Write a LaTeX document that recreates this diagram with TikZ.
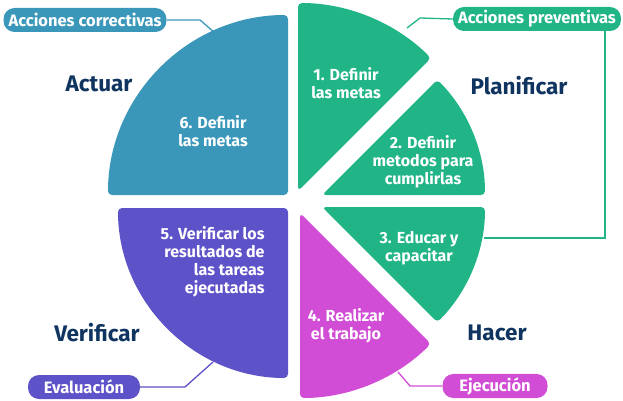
\documentclass[tikz,border=0pt]{standalone}
\usepackage{fontspec}
\setmainfont{Fira Sans}
\definecolor{cteal}{HTML}{3A97BA}
\definecolor{cgreen}{HTML}{20B487}
\definecolor{cpurp}{HTML}{5E52C8}
\definecolor{cmag}{HTML}{D24DD6}
\definecolor{cdark}{HTML}{0F3460}
\begin{document}
\begin{tikzpicture}[x=1pt,y=-1pt,
 sect/.style={rounded corners=4pt},
 inner/.style={text=white,font=\fontsize{16}{18}\selectfont\bfseries,align=center},
 phase/.style={text=cdark,font=\fontsize{22.5}{24}\selectfont\bfseries},
 pill/.style={rounded corners=11pt,minimum height=24pt,text=white,font=\fontsize{16.5}{17}\selectfont\bfseries,inner xsep=5pt},
 conn/.style={line width=1.3pt}]
\useasboundingbox (0,0) rectangle (623,401);
% sectors
\fill[cteal,sect] (288,195) -- (108,195) arc[start angle=-180,end angle=-90,radius=180] -- cycle;
\fill[cpurp,sect] (288,208) -- (288,378) arc[start angle=90,end angle=180,radius=170] -- cycle;
\fill[cgreen,sect] (298,191) -- (298,3) arc[start angle=-90,end angle=-45,radius=188] -- cycle;
\fill[cgreen,sect] (322,195) -- ++(-45:163) arc[start angle=-45,end angle=0,radius=163] -- cycle;
\fill[cgreen,sect] (322,207) -- (485,207) arc[start angle=0,end angle=45,radius=163] -- cycle;
\fill[cmag,sect] (300,213) -- ++(45:185) arc[start angle=45,end angle=90,radius=185] -- cycle;
% connector anchors
\coordinate (g1) at (407,28);
\coordinate (g3) at (484,238);
\coordinate (t6) at (215,33);
\coordinate (p5) at (213,362);
\coordinate (m4) at (398,372);
% pills
\node[pill,fill=cgreen] (ap) at (537,19) {Acciones preventivas};
\node[pill,fill=cteal] (ac) at (85,20) {Acciones correctivas};
\node[pill,fill=cpurp,minimum width=112pt] (ev) at (84,387) {Evaluación};
\node[pill,fill=cmag,minimum width=105pt] (ej) at (495,386) {Ejecución};
\draw[conn,cgreen] (g1) -- (420,18) -- (ap.west);
\coordinate (apc) at (605,30);
\draw[conn,cgreen] (apc) -- (apc|-g3) -- (g3);
\draw[conn,cteal] (ac.east) -- (200,20) -- (t6);
\draw[conn,cpurp] (ev.east) -- (185,387) -- (p5);
\draw[conn,cmag] (ej.west) -- (410,386) -- (m4);
% phase labels
\node[phase] (la) at (99,84) {Actuar};
\node[phase] (lp) at (519,86) {Planificar};
\node[phase] (lv) at (97,333) {Verificar};
\node[phase] (lh) at (497,333) {Hacer};
% texts
\node[inner] (s6) at (213,131) {6. Definir\\las metas};
\node[inner] (s1) at (346,83) {1. Definir\\las metas};
\node[inner] (s2) at (423,162) {2. Definir\\metodos para\\cumplirlas};
\node[inner] (s3) at (419,248) {3. Educar y\\capacitar};
\node[inner] (s4) at (346,326) {4. Realizar\\el trabajo};
\node[inner,align=right,anchor=east] (s5) at (268,262) {5. Verificar los\\resultados de\\las tareas\\ejecutadas};
\end{tikzpicture}
\end{document}
